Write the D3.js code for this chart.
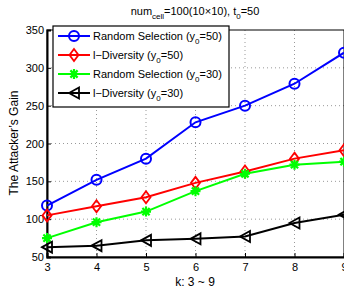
<!DOCTYPE html>
<html>
<head>
<meta charset="utf-8">
<script src="https://cdn.jsdelivr.net/npm/d3@7"></script>
<style>
  body { margin: 0; background: #fff; }
  text { font-family: "Liberation Sans", Arial, sans-serif; }
</style>
</head>
<body>
<div id="chart"></div>
<script>
var ks = [3, 4, 5, 6, 7, 8, 9];
var randomSel50 = [118, 152, 180, 228, 250, 279, 320];
var lDiversity50 = [105, 117, 129, 148, 163, 180, 191];
var randomSel30 = [75, 96, 110, 137, 160, 172, 176];
var lDiversity30 = [63, 65, 72, 74, 77, 95, 106];
var yTicks = [50, 100, 150, 200, 250, 300, 350];

var series = [
  {name: "Random Selection (y", sub: "0", tail: "=50)", values: randomSel50, color: "#0000ff", marker: "circle"},
  {name: "l\u2212Diversity (y", sub: "0", tail: "=50)", values: lDiversity50, color: "#ff0000", marker: "diamond"},
  {name: "Random Selection (y", sub: "0", tail: "=30)", values: randomSel30, color: "#00ff00", marker: "star"},
  {name: "l\u2212Diversity (y", sub: "0", tail: "=30)", values: lDiversity30, color: "#000000", marker: "triangle"}
];

var width = 344, height = 293;
var margin = {top: 30, right: 0, bottom: 36, left: 47};
var w = width - margin.left - margin.right;
var h = height - margin.top - margin.bottom;

var svg = d3.select("#chart").append("svg")
  .attr("width", width).attr("height", height);

var g = svg.append("g")
  .attr("transform", "translate(" + margin.left + "," + margin.top + ")");

var x = d3.scaleLinear().domain([3, 9]).range([0, w]);
var y = d3.scaleLinear().domain([50, 350]).range([h, 0]);

// grid
g.append("g").selectAll("line").data(ks.slice(1, -1)).enter().append("line")
  .attr("x1", d => x(d)).attr("x2", d => x(d))
  .attr("y1", 0).attr("y2", h)
  .attr("stroke", "#999").attr("stroke-dasharray", "1,3");
g.append("g").selectAll("line").data(yTicks.slice(1, -1)).enter().append("line")
  .attr("y1", d => y(d)).attr("y2", d => y(d))
  .attr("x1", 0).attr("x2", w)
  .attr("stroke", "#999").attr("stroke-dasharray", "1,3");

// frame
g.append("rect").attr("width", w).attr("height", h)
  .attr("fill", "none").attr("stroke", "#000").attr("stroke-width", 1);

// axes
var xAxis = g.append("g").attr("transform", "translate(0," + h + ")")
  .call(d3.axisBottom(x).tickValues(ks).tickSize(-4).tickPadding(6).tickFormat(d3.format("d")));
var yAxis = g.append("g")
  .call(d3.axisLeft(y).tickValues(yTicks).tickSize(-4).tickPadding(3));
[xAxis, yAxis].forEach(function (a) {
  a.select(".domain").attr("stroke-width", 2);
  a.selectAll("text").style("font-size", "11px").attr("fill", "#000")
    .style("font-family", "'Liberation Sans', Arial, sans-serif");
});

var line = d3.line().x((d, i) => x(ks[i])).y(d => y(d));

function drawMarker(sel, type, color) {
  if (type === "circle") {
    sel.append("circle").attr("r", 5).attr("fill", "none").attr("stroke", color).attr("stroke-width", 2);
  } else if (type === "diamond") {
    sel.append("path").attr("d", "M0,-6L4.5,0L0,6L-4.5,0Z").attr("fill", "none").attr("stroke", color).attr("stroke-width", 1.8);
  } else if (type === "star") {
    sel.append("path").attr("d", "M-5,0L5,0M0,-5L0,5M-3.6,-3.6L3.6,3.6M-3.6,3.6L3.6,-3.6")
      .attr("stroke", color).attr("stroke-width", 2.2);
  } else if (type === "triangle") {
    sel.append("path").attr("d", "M-5,0L5,-5.5L5,5.5Z").attr("fill", "none").attr("stroke", color).attr("stroke-width", 1.8);
  }
}

series.forEach(function (s) {
  g.append("path").datum(s.values).attr("d", line)
    .attr("fill", "none").attr("stroke", s.color).attr("stroke-width", 2);
  s.values.forEach(function (v, i) {
    var m = g.append("g").attr("transform", "translate(" + x(ks[i]) + "," + y(v) + ")");
    drawMarker(m, s.marker, s.color);
  });
});

// legend
var lg = svg.append("g").attr("transform", "translate(53,26)");
lg.append("rect").attr("width", 176).attr("height", 81)
  .attr("fill", "#fff").attr("stroke", "#000").attr("stroke-width", 1.2);
series.forEach(function (s, i) {
  var row = lg.append("g").attr("transform", "translate(0," + (10 + i * 19) + ")");
  row.append("line").attr("x1", 5).attr("x2", 37).attr("stroke", s.color).attr("stroke-width", 2);
  var m = row.append("g").attr("transform", "translate(21,0)");
  drawMarker(m, s.marker, s.color);
  var t = row.append("text").attr("x", 40).attr("y", 4).style("font-size", "11px");
  t.append("tspan").text(s.name);
  t.append("tspan").attr("dy", 4).style("font-size", "8px").text(s.sub);
  t.append("tspan").attr("dy", -4).text(s.tail);
});

// title
var title = svg.append("text").attr("x", 195).attr("y", 15)
  .attr("text-anchor", "middle").style("font-size", "11px");
title.append("tspan").text("num");
title.append("tspan").attr("dy", 4).style("font-size", "8px").text("cell");
title.append("tspan").attr("dy", -4).text("=100(10\u00d710), t");
title.append("tspan").attr("dy", 4).style("font-size", "8px").text("0");
title.append("tspan").attr("dy", -4).text("=50");

// axis labels
svg.append("text").attr("x", 195).attr("y", 286)
  .attr("text-anchor", "middle").style("font-size", "12px").text("k: 3 ~ 9");
svg.append("text").attr("transform", "rotate(-90)")
  .attr("x", -143).attr("y", 18)
  .attr("text-anchor", "middle").style("font-size", "12px").text("The Attacker\u2019s Gain");
</script>
</body>
</html>
